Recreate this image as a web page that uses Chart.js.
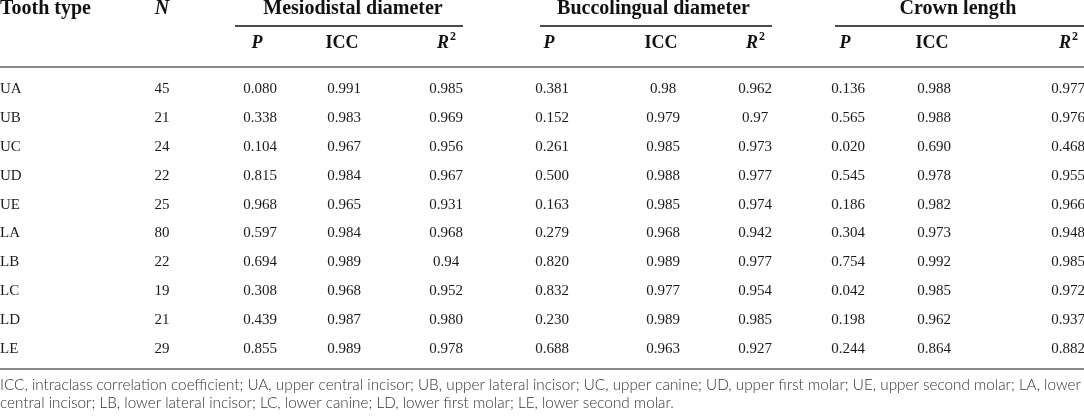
<!DOCTYPE html>
<html><head><meta charset="utf-8">
<script src="https://cdn.jsdelivr.net/npm/chart.js@4/dist/chart.umd.min.js"></script>
<style>html,body{margin:0;padding:0;background:#fff}#wrap{width:1084px;height:416px;position:relative}</style>
</head><body><div id="wrap"><canvas id="c"></canvas></div>
<script>
// ---- data ----
const toothTypes = ['UA','UB','UC','UD','UE','LA','LB','LC','LD','LE'];
const sampleN = ['45','21','24','22','25','80','22','19','21','29'];
const mdP   = ['0.080','0.338','0.104','0.815','0.968','0.597','0.694','0.308','0.439','0.855'];
const mdICC = ['0.991','0.983','0.967','0.984','0.965','0.984','0.989','0.968','0.987','0.989'];
const mdR2  = ['0.985','0.969','0.956','0.967','0.931','0.968','0.94','0.952','0.980','0.978'];
const blP   = ['0.381','0.152','0.261','0.500','0.163','0.279','0.820','0.832','0.230','0.688'];
const blICC = ['0.98','0.979','0.985','0.988','0.985','0.968','0.989','0.977','0.989','0.963'];
const blR2  = ['0.962','0.97','0.973','0.977','0.974','0.942','0.977','0.954','0.985','0.927'];
const clP   = ['0.136','0.565','0.020','0.545','0.186','0.304','0.754','0.042','0.198','0.244'];
const clICC = ['0.988','0.988','0.690','0.978','0.982','0.973','0.992','0.985','0.962','0.864'];
const clR2  = ['0.977','0.976','0.468','0.955','0.966','0.948','0.985','0.972','0.937','0.882'];
const groupHeaders = ['Mesiodistal diameter','Buccolingual diameter','Crown length'];
const subHeaders = ['P','ICC','R2'];
const footnoteLines = [
 'ICC, intraclass correlation coefficient; UA, upper central incisor; UB, upper lateral incisor; UC, upper canine; UD, upper first molar; UE, upper second molar; LA, lower',
 'central incisor; LB, lower lateral incisor; LC, lower canine; LD, lower first molar; LE, lower second molar.'
];

// ---- layout ----
const W = 1084, H = 416;
const ROW0 = 89, ROWSTEP = 28.9;
const toRow = px => (px - ROW0) / ROWSTEP;
const colX = [0, 162, 260, 344, 446, 552, 663, 755, 848, 934, 1068];
const groupSpan = [[235,463],[540,772],[835,1084]];
const HEAD1 = 9, HEAD2 = 43, CMID = 26, RULE1 = 67, RULE2 = 369, FOOT = [385, 403];
const columns = [toothTypes, sampleN, mdP, mdICC, mdR2, blP, blICC, blR2, clP, clICC, clR2];

const datasets = [];
columns.forEach((col, ci) => {
  datasets.push({
    type: 'scatter', kind: 'cell', align: ci === 0 ? 'left' : 'center',
    data: col.map((v, ri) => ({x: colX[ci], y: ri, label: v})),
    pointRadius: 0, pointHoverRadius: 0
  });
});
// rules
function rule(x0, x1, px, color, w) {
  datasets.push({type: 'line', kind: 'rule', data: [{x: x0, y: toRow(px)}, {x: x1, y: toRow(px)}],
    borderColor: color, borderWidth: w, pointRadius: 0, fill: false, clip: false});
}
groupSpan.forEach(s => rule(s[0], s[1], CMID, '#111', 1.6));
rule(0, W, RULE1, '#8a8a8a', 1.8);
rule(0, W, RULE2, '#8a8a8a', 1.8);

const tablePlugin = {
  id: 'tablePlugin',
  afterDatasetsDraw(chart) {
    const ctx = chart.ctx, xs = chart.scales.x, ys = chart.scales.y;
    ctx.save();
    ctx.textBaseline = 'middle';
    // cells
    chart.data.datasets.forEach((ds, i) => {
      if (ds.kind !== 'cell') return;
      const meta = chart.getDatasetMeta(i);
      ctx.font = '15px "Liberation Serif"';
      ctx.fillStyle = '#1a1a1a';
      ctx.textAlign = ds.align;
      meta.data.forEach((el, j) => ctx.fillText(ds.data[j].label, el.x, el.y));
    });
    // headers
    ctx.fillStyle = '#111';
    const h1 = ys.getPixelForValue(toRow(HEAD1));
    const h2 = ys.getPixelForValue(toRow(HEAD2));
    ctx.font = 'bold 20px "Liberation Serif"';
    ctx.textAlign = 'left';
    ctx.fillText('Tooth type', xs.getPixelForValue(colX[0]), h1);
    ctx.textAlign = 'center';
    ctx.font = 'italic bold 20px "Liberation Serif"';
    ctx.fillText('N', xs.getPixelForValue(colX[1]), h1);
    ctx.font = 'bold 20px "Liberation Serif"';
    groupHeaders.forEach((g, k) => {
      const cx = (colX[2 + 3*k] + colX[4 + 3*k]) / 2;
      ctx.fillText(g, xs.getPixelForValue(cx), h1);
    });
    for (let k = 0; k < 3; k++) {
      subHeaders.forEach((sh, m) => {
        const x = xs.getPixelForValue(colX[2 + 3*k + m]);
        if (sh === 'P') {
          ctx.font = 'italic bold 18px "Liberation Serif"'; ctx.textAlign = 'center';
          ctx.fillText('P', x - 3, h2);
        } else if (sh === 'ICC') {
          ctx.font = 'bold 18px "Liberation Serif"'; ctx.textAlign = 'center';
          ctx.fillText('ICC', x - 2, h2);
        } else {
          ctx.font = 'italic bold 18px "Liberation Serif"';
          const wR = ctx.measureText('R').width;
          ctx.font = 'bold 12px "Liberation Serif"';
          const w2 = ctx.measureText('2').width;
          const x0 = x - (wR + w2) / 2;
          ctx.textAlign = 'left';
          ctx.font = 'italic bold 18px "Liberation Serif"';
          ctx.fillText('R', x0, h2);
          ctx.font = 'bold 12px "Liberation Serif"';
          ctx.fillText('2', x0 + wR + 1, h2 - 6);
        }
      });
    }
    // footnote
    ctx.fillStyle = '#333';
    ctx.textAlign = 'left';
    ctx.font = '300 13px Lato';
    const target = 1082;
    const w0 = ctx.measureText(footnoteLines[0]).width;
    const fs = 13 * target / w0;
    ctx.font = '300 ' + fs.toFixed(2) + 'px Lato';
    footnoteLines.forEach((t, k) => ctx.fillText(t, xs.getPixelForValue(0), ys.getPixelForValue(toRow(FOOT[k]))));
    ctx.restore();
  }
};

new Chart(document.getElementById('c'), {
  type: 'scatter',
  data: {datasets},
  options: {
    responsive: true, maintainAspectRatio: false, animation: false,
    layout: {padding: 0},
    plugins: {legend: {display: false}, tooltip: {enabled: false}},
    events: [],
    scales: {
      x: {type: 'linear', min: 0, max: W, display: false},
      y: {type: 'linear', reverse: true, min: toRow(0), max: toRow(H), display: false}
    }
  },
  plugins: [tablePlugin]
});
</script></body></html>
